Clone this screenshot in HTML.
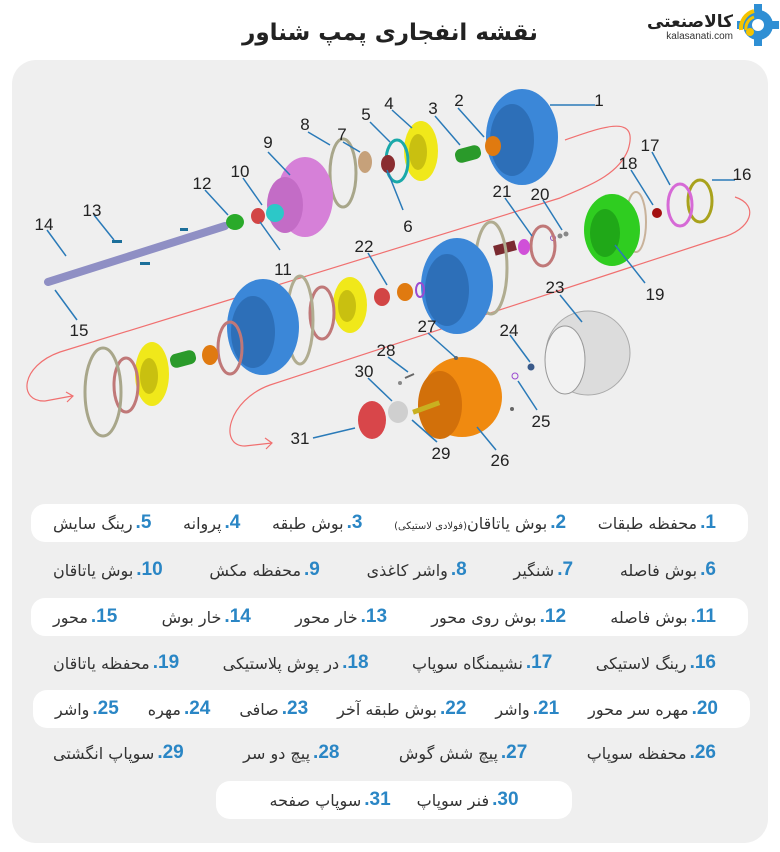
<!DOCTYPE html>
<html><head><meta charset="utf-8"><style>
*{margin:0;padding:0;box-sizing:border-box}
body{width:780px;height:852px;background:#fff;position:relative;overflow:hidden;font-family:"Liberation Sans","Noto Sans CJK SC",sans-serif}
.title{position:absolute;left:0;width:780px;top:20px;text-align:center;font-size:23px;font-weight:bold;color:#222;font-family:"DejaVu Sans","Liberation Sans",sans-serif}
.panel{position:absolute;left:12px;top:60px;width:756px;height:783px;background:#efefef;border-radius:24px}
.row{position:absolute;display:flex;justify-content:space-between;align-items:center;height:38px;border-radius:14px;padding:0 32px 0 22px;font-family:"DejaVu Sans","Liberation Sans",sans-serif;font-size:16px;color:#333}
.w{background:#fff}
.it{display:flex;align-items:center;direction:ltr;white-space:nowrap}
.n{color:#2a86c5;font-weight:bold;font-family:"Liberation Sans",sans-serif;font-size:19px;margin-left:3px}
.s{font-size:10px}
svg{position:absolute;left:0;top:0}
</style></head><body>
<div class="title">نقشه انفجاری پمپ شناور</div>
<svg width="780" height="60" viewBox="0 0 780 60">
<circle cx="758" cy="25" r="15" fill="#2f8fd4"/>
<g fill="#2f8fd4"><rect x="754" y="4" width="8" height="8"/><rect x="754" y="38" width="8" height="8"/><rect x="737" y="21" width="8" height="8"/><rect x="771" y="21" width="8" height="8"/></g>
<circle cx="758" cy="25" r="6" fill="#fff"/>
<path d="M741 30 A18 18 0 0 1 754 11" stroke="#f5c400" stroke-width="4" fill="none"/>
<path d="M746 30 A12 12 0 0 1 754 17" stroke="#f5c400" stroke-width="3" fill="none"/>
<circle cx="750" cy="32" r="4" fill="#f5c400"/>
<text x="733" y="27" text-anchor="end" font-size="17" font-weight="bold" fill="#222" font-family="DejaVu Sans,sans-serif">کالاصنعتی</text>
<text x="733" y="39" text-anchor="end" font-size="10" fill="#333" font-family="Liberation Sans,sans-serif">kalasanati.com</text>
</svg>
<div class="panel"></div>
<svg width="780" height="852" viewBox="0 0 780 852">
<g fill="none" stroke="#f07070" stroke-width="1.2">
<path d="M565 140 C600 128 640 112 628 150 C618 175 590 185 560 198 L60 352 C20 366 18 402 45 401 L72 396"/>
<path d="M66 392 L73 396 L67 402"/>
<path d="M735 197 C760 205 752 230 720 238 L270 385 C228 400 218 446 245 446 L272 443"/>
<path d="M265 438 L272 443 L266 449"/>
</g>
<!-- shaft -->
<line x1="48" y1="282" x2="225" y2="226" stroke="#8f8fc4" stroke-width="8" stroke-linecap="round"/>
<g fill="#1c6f9a"><rect x="112" y="240" width="10" height="3"/><rect x="140" y="262" width="10" height="3"/><rect x="180" y="228" width="8" height="3"/></g>
<ellipse cx="522" cy="137" rx="36" ry="48" fill="#3b87d8"/><ellipse cx="512" cy="140" rx="22" ry="36" fill="#2d6fb8"/>
<ellipse cx="493" cy="146" rx="8" ry="10" fill="#e07a10"/>
<rect x="455" y="147" width="26" height="14" rx="6" fill="#2a9a2a" transform="rotate(-15 468 154)"/>
<ellipse cx="421" cy="151" rx="17" ry="30" fill="#f0e81a"/><ellipse cx="418" cy="152" rx="9" ry="18" fill="#c9c010"/>
<ellipse cx="397" cy="161" rx="11" ry="21" fill="none" stroke="#1aa9a9" stroke-width="3"/>
<ellipse cx="388" cy="164" rx="7" ry="9" fill="#8a2d30"/>
<ellipse cx="365" cy="162" rx="7" ry="11" fill="#c6a17a"/>
<ellipse cx="343" cy="173" rx="13" ry="34" fill="none" stroke="#a8a68a" stroke-width="3"/>
<ellipse cx="305" cy="197" rx="28" ry="40" fill="#d680d8"/><ellipse cx="285" cy="205" rx="18" ry="28" fill="#c36cc6"/>
<ellipse cx="275" cy="213" rx="9" ry="9" fill="#2cc8c8"/>
<ellipse cx="258" cy="216" rx="7" ry="8" fill="#d24545"/>
<ellipse cx="235" cy="222" rx="9" ry="8" fill="#2aaa2a"/>
<ellipse cx="700" cy="201" rx="12" ry="21" fill="none" stroke="#a9a21c" stroke-width="3"/>
<ellipse cx="680" cy="205" rx="12" ry="21" fill="none" stroke="#d66ad6" stroke-width="3"/>
<circle cx="657" cy="213" r="5" fill="#a31010"/>
<ellipse cx="636" cy="222" rx="10" ry="30" fill="none" stroke="#c8b29a" stroke-width="2"/>
<ellipse cx="612" cy="230" rx="28" ry="36" fill="#2fcd20"/><ellipse cx="605" cy="233" rx="15" ry="24" fill="#20a818"/>
<circle cx="566" cy="234" r="2.5" fill="#888"/><circle cx="560" cy="236" r="2.5" fill="#888"/><circle cx="553" cy="238" r="2.5" fill="none" stroke="#9050c0"/>
<ellipse cx="543" cy="246" rx="12" ry="20" fill="none" stroke="#c07878" stroke-width="3"/>
<ellipse cx="524" cy="247" rx="6" ry="8" fill="#d050d8"/>
<rect x="494" y="243" width="22" height="10" fill="#7a2a30" transform="rotate(-15 505 248)"/>
<ellipse cx="491" cy="268" rx="16" ry="46" fill="none" stroke="#b0ac90" stroke-width="3"/>
<ellipse cx="457" cy="286" rx="36" ry="48" fill="#3b87d8"/><ellipse cx="447" cy="290" rx="22" ry="36" fill="#2d6fb8"/>
<ellipse cx="420" cy="290" rx="4" ry="7" fill="none" stroke="#9a4ad0" stroke-width="2"/>
<ellipse cx="405" cy="292" rx="8" ry="9" fill="#e07a10"/>
<ellipse cx="382" cy="297" rx="8" ry="9" fill="#d24545"/>
<ellipse cx="350" cy="305" rx="17" ry="28" fill="#f0e81a"/><ellipse cx="347" cy="306" rx="9" ry="16" fill="#c9c010"/>
<ellipse cx="322" cy="313" rx="12" ry="26" fill="none" stroke="#c07878" stroke-width="3"/>
<ellipse cx="300" cy="320" rx="13" ry="44" fill="none" stroke="#b0ac90" stroke-width="3"/>
<ellipse cx="263" cy="327" rx="36" ry="48" fill="#3b87d8"/><ellipse cx="253" cy="332" rx="22" ry="36" fill="#2d6fb8"/>
<ellipse cx="230" cy="348" rx="12" ry="26" fill="none" stroke="#c07878" stroke-width="3"/>
<ellipse cx="210" cy="355" rx="8" ry="10" fill="#e07a10"/>
<rect x="170" y="352" width="26" height="14" rx="6" fill="#2a9a2a" transform="rotate(-15 183 359)"/>
<ellipse cx="152" cy="374" rx="17" ry="32" fill="#f0e81a"/><ellipse cx="149" cy="376" rx="9" ry="18" fill="#c9c010"/>
<ellipse cx="126" cy="385" rx="12" ry="27" fill="none" stroke="#c07878" stroke-width="3"/>
<ellipse cx="103" cy="392" rx="18" ry="44" fill="none" stroke="#a8a68a" stroke-width="3"/>
<ellipse cx="588" cy="353" rx="42" ry="42" fill="#dcdcdc" stroke="#aaa"/><ellipse cx="565" cy="360" rx="20" ry="34" fill="#f2f2f2" stroke="#999"/>
<circle cx="531" cy="367" r="3.5" fill="#3a5a8a"/>
<circle cx="515" cy="376" r="3" fill="none" stroke="#9a4ad0"/>
<ellipse cx="462" cy="397" rx="40" ry="40" fill="#f08a10"/><ellipse cx="440" cy="405" rx="22" ry="34" fill="#d2700a"/>
<rect x="412" y="405" width="28" height="5" fill="#c9b020" transform="rotate(-20 426 407)"/>
<ellipse cx="398" cy="412" rx="10" ry="11" fill="#cfcfcf"/>
<ellipse cx="372" cy="420" rx="14" ry="19" fill="#d8464a"/>
<circle cx="400" cy="383" r="2" fill="#888"/><line x1="405" y1="378" x2="414" y2="374" stroke="#666" stroke-width="2"/>
<circle cx="456" cy="358" r="2" fill="#666"/><circle cx="512" cy="409" r="2" fill="#666"/>
<g stroke="#2a7ab8" stroke-width="1.5">
<line x1="550" y1="105" x2="595" y2="105"/><line x1="458" y1="108" x2="484" y2="137"/><line x1="435" y1="116" x2="460" y2="145"/>
<line x1="392" y1="110" x2="412" y2="128"/><line x1="370" y1="122" x2="390" y2="142"/><line x1="387" y1="170" x2="403" y2="210"/>
<line x1="343" y1="142" x2="360" y2="152"/><line x1="308" y1="132" x2="330" y2="145"/><line x1="268" y1="152" x2="290" y2="175"/>
<line x1="243" y1="178" x2="262" y2="205"/><line x1="260" y1="222" x2="280" y2="250"/><line x1="205" y1="190" x2="228" y2="215"/>
<line x1="94" y1="215" x2="114" y2="240"/><line x1="47" y1="230" x2="66" y2="256"/><line x1="55" y1="290" x2="77" y2="320"/>
<line x1="712" y1="180" x2="735" y2="180"/><line x1="652" y1="152" x2="670" y2="185"/><line x1="631" y1="170" x2="653" y2="205"/>
<line x1="615" y1="245" x2="645" y2="283"/><line x1="543" y1="200" x2="562" y2="230"/><line x1="505" y1="198" x2="532" y2="236"/>
<line x1="368" y1="253" x2="387" y2="285"/><line x1="560" y1="295" x2="582" y2="322"/><line x1="510" y1="335" x2="530" y2="362"/>
<line x1="518" y1="381" x2="537" y2="410"/><line x1="477" y1="427" x2="496" y2="450"/><line x1="428" y1="333" x2="455" y2="357"/>
<line x1="388" y1="357" x2="408" y2="372"/><line x1="368" y1="378" x2="392" y2="401"/><line x1="412" y1="420" x2="437" y2="442"/>
<line x1="313" y1="438" x2="355" y2="428"/>
</g>
<g font-family="Liberation Sans,sans-serif" font-size="17" fill="#222" text-anchor="middle">
<text x="599" y="106">1</text><text x="459" y="106">2</text><text x="433" y="114">3</text><text x="389" y="109">4</text><text x="366" y="120">5</text>
<text x="408" y="232">6</text><text x="342" y="140">7</text><text x="305" y="130">8</text><text x="268" y="148">9</text><text x="240" y="177">10</text>
<text x="283" y="275">11</text><text x="202" y="189">12</text><text x="92" y="216">13</text><text x="44" y="230">14</text><text x="79" y="336">15</text>
<text x="742" y="180">16</text><text x="650" y="151">17</text><text x="628" y="169">18</text><text x="655" y="300">19</text><text x="540" y="200">20</text>
<text x="502" y="197">21</text><text x="364" y="252">22</text><text x="555" y="293">23</text><text x="509" y="336">24</text><text x="541" y="427">25</text>
<text x="500" y="466">26</text><text x="427" y="332">27</text><text x="386" y="356">28</text><text x="441" y="459">29</text><text x="364" y="377">30</text><text x="300" y="444">31</text>
</g>
</svg>
<div class="row w" style="left:31px;top:504px;width:717px"><span class="it"><span class="t">رینگ سایش</span><span class="n">.5</span></span><span class="it"><span class="t">پروانه</span><span class="n">.4</span></span><span class="it"><span class="t">بوش طبقه</span><span class="n">.3</span></span><span class="it"><span class="t"><span class="s">(فولادی لاستیکی)</span>بوش یاتاقان</span><span class="n">.2</span></span><span class="it"><span class="t">محفظه طبقات</span><span class="n">.1</span></span></div>
<div class="row" style="left:31px;top:551px;width:717px"><span class="it"><span class="t">بوش یاتاقان</span><span class="n">.10</span></span><span class="it"><span class="t">محفظه مکش</span><span class="n">.9</span></span><span class="it"><span class="t">واشر کاغذی</span><span class="n">.8</span></span><span class="it"><span class="t">شنگیر</span><span class="n">.7</span></span><span class="it"><span class="t">بوش فاصله</span><span class="n">.6</span></span></div>
<div class="row w" style="left:31px;top:598px;width:717px"><span class="it"><span class="t">محور</span><span class="n">.15</span></span><span class="it"><span class="t">خار بوش</span><span class="n">.14</span></span><span class="it"><span class="t">خار محور</span><span class="n">.13</span></span><span class="it"><span class="t">بوش روی محور</span><span class="n">.12</span></span><span class="it"><span class="t">بوش فاصله</span><span class="n">.11</span></span></div>
<div class="row" style="left:31px;top:644px;width:717px"><span class="it"><span class="t">محفظه یاتاقان</span><span class="n">.19</span></span><span class="it"><span class="t">در پوش پلاستیکی</span><span class="n">.18</span></span><span class="it"><span class="t">نشیمنگاه سوپاپ</span><span class="n">.17</span></span><span class="it"><span class="t">رینگ لاستیکی</span><span class="n">.16</span></span></div>
<div class="row w" style="left:33px;top:690px;width:717px"><span class="it"><span class="t">واشر</span><span class="n">.25</span></span><span class="it"><span class="t">مهره</span><span class="n">.24</span></span><span class="it"><span class="t">صافی</span><span class="n">.23</span></span><span class="it"><span class="t">بوش طبقه آخر</span><span class="n">.22</span></span><span class="it"><span class="t">واشر</span><span class="n">.21</span></span><span class="it"><span class="t">مهره سر محور</span><span class="n">.20</span></span></div>
<div class="row" style="left:31px;top:734px;width:717px"><span class="it"><span class="t">سوپاپ انگشتی</span><span class="n">.29</span></span><span class="it"><span class="t">پیچ دو سر</span><span class="n">.28</span></span><span class="it"><span class="t">پیچ شش گوش</span><span class="n">.27</span></span><span class="it"><span class="t">محفظه سوپاپ</span><span class="n">.26</span></span></div>
<div class="row w" style="left:216px;top:781px;width:356px;justify-content:center;gap:26px;padding:0"><span class="it"><span class="t">سوپاپ صفحه</span><span class="n">.31</span></span><span class="it"><span class="t">فنر سوپاپ</span><span class="n">.30</span></span></div>
</body></html>
